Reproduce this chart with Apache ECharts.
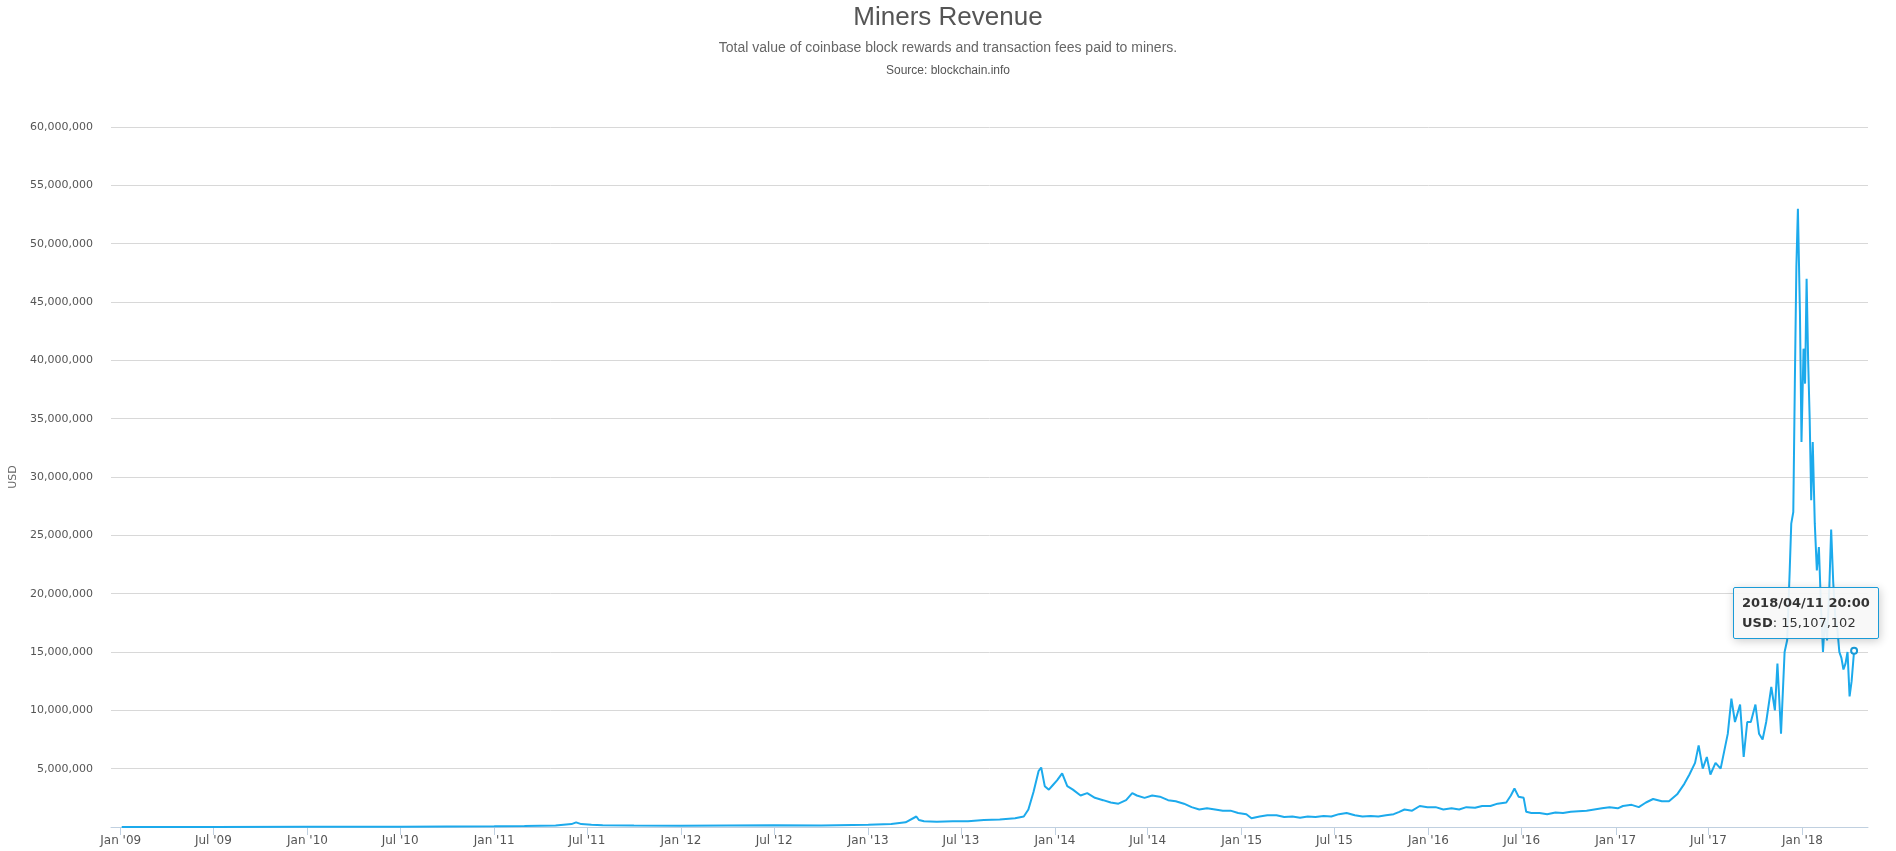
<!DOCTYPE html>
<html><head><meta charset="utf-8">
<script src="https://cdn.jsdelivr.net/npm/echarts@6/dist/echarts.min.js"></script>
<style>html,body{margin:0;padding:0;background:#fff}#c{width:1896px;height:851px}</style>
</head><body><div id="c"></div>
<script>
const dates = ["2009-01-03","2009-07-01","2010-01-01","2010-07-01","2011-01-01","2011-03-01","2011-05-01","2011-06-01","2011-06-10","2011-06-20","2011-07-10","2011-08-01","2011-10-01","2012-01-01","2012-04-01","2012-07-01","2012-10-01","2013-01-01","2013-02-15","2013-03-15","2013-04-05","2013-04-10","2013-04-20","2013-05-15","2013-06-15","2013-07-15","2013-08-15","2013-09-15","2013-10-15","2013-11-01","2013-11-10","2013-11-20","2013-11-30","2013-12-05","2013-12-12","2013-12-20","2013-12-28","2014-01-05","2014-01-15","2014-01-25","2014-02-05","2014-02-20","2014-03-05","2014-03-20","2014-04-05","2014-04-20","2014-05-05","2014-05-20","2014-06-01","2014-06-10","2014-06-25","2014-07-10","2014-07-25","2014-08-10","2014-08-25","2014-09-10","2014-09-25","2014-10-10","2014-10-25","2014-11-10","2014-11-25","2014-12-10","2014-12-25","2015-01-10","2015-01-20","2015-02-05","2015-02-20","2015-03-10","2015-03-25","2015-04-10","2015-04-25","2015-05-10","2015-05-25","2015-06-10","2015-06-25","2015-07-10","2015-07-25","2015-08-10","2015-08-25","2015-09-10","2015-09-25","2015-10-10","2015-10-25","2015-11-05","2015-11-15","2015-11-30","2015-12-15","2015-12-30","2016-01-15","2016-01-30","2016-02-15","2016-03-01","2016-03-15","2016-04-01","2016-04-15","2016-05-01","2016-05-15","2016-06-01","2016-06-10","2016-06-17","2016-06-25","2016-07-05","2016-07-10","2016-07-20","2016-08-05","2016-08-20","2016-09-05","2016-09-20","2016-10-05","2016-10-20","2016-11-05","2016-11-20","2016-12-05","2016-12-20","2017-01-05","2017-01-15","2017-02-01","2017-02-15","2017-03-01","2017-03-15","2017-04-01","2017-04-15","2017-05-01","2017-05-15","2017-05-25","2017-06-05","2017-06-12","2017-06-20","2017-06-28","2017-07-05","2017-07-15","2017-07-25","2017-08-01","2017-08-08","2017-08-15","2017-08-22","2017-09-01","2017-09-08","2017-09-15","2017-09-22","2017-10-01","2017-10-08","2017-10-15","2017-10-22","2017-11-01","2017-11-08","2017-11-13","2017-11-20","2017-11-27","2017-12-02","2017-12-07","2017-12-10","2017-12-14","2017-12-17","2017-12-20","2017-12-23","2017-12-27","2017-12-30","2018-01-03","2018-01-06","2018-01-09","2018-01-12","2018-01-15","2018-01-18","2018-01-21","2018-01-25","2018-01-29","2018-02-02","2018-02-06","2018-02-10","2018-02-14","2018-02-18","2018-02-22","2018-02-26","2018-03-02","2018-03-06","2018-03-10","2018-03-14","2018-03-18","2018-03-22","2018-03-26","2018-03-30","2018-04-03","2018-04-07","2018-04-11T20:00"];
const usd = [0,5000,20000,30000,60000,80000,120000,250000,400000,250000,200000,150000,120000,100000,120000,150000,130000,200000,250000,400000,900000,600000,500000,450000,500000,500000,600000,650000,750000,900000,1500000,3000000,4800000,5100000,3500000,3200000,3600000,4000000,4600000,3500000,3200000,2700000,2900000,2500000,2300000,2100000,2000000,2300000,2900000,2700000,2500000,2700000,2600000,2300000,2200000,2000000,1700000,1500000,1600000,1500000,1400000,1400000,1200000,1100000,750000,900000,1000000,1000000,850000,900000,800000,900000,850000,950000,900000,1100000,1200000,1000000,900000,950000,900000,1000000,1100000,1300000,1500000,1400000,1800000,1700000,1700000,1500000,1600000,1500000,1700000,1650000,1800000,1800000,2000000,2100000,2700000,3300000,2600000,2500000,1300000,1200000,1200000,1100000,1250000,1200000,1300000,1350000,1400000,1500000,1600000,1700000,1600000,1800000,1900000,1700000,2100000,2400000,2200000,2200000,2800000,3700000,4500000,5500000,7000000,5000000,6000000,4500000,5500000,5000000,6500000,8000000,11000000,9000000,10500000,6000000,9000000,9000000,10500000,8000000,7500000,9000000,12000000,10000000,14000000,8000000,15000000,16000000,22000000,26000000,27000000,38000000,48000000,53000000,44000000,33000000,41000000,38000000,47000000,40000000,35000000,28000000,33000000,26000000,22000000,24000000,19000000,15000000,18000000,16000000,20000000,25500000,21000000,18000000,17000000,15000000,14500000,13500000,14000000,15000000,11200000,12500000,15107102];
const yTicks = [5000000,10000000,15000000,20000000,25000000,30000000,35000000,40000000,45000000,50000000,55000000,60000000];
const titleText = "Miners Revenue";
const subText = "Total value of coinbase block rewards and transaction fees paid to miners.";
const sourceText = "Source: blockchain.info";
const seriesName = "USD";
const tipTitle = "2018/04/11 20:00";

const chart = echarts.init(document.getElementById('c'));
const mon = ['Jan','Feb','Mar','Apr','May','Jun','Jul','Aug','Sep','Oct','Nov','Dec'];
const halfYear = 182.5*86400000;
chart.setOption({
  animation:false,
  title:[
    {text:titleText,left:'center',top:0,textStyle:{fontFamily:'Liberation Sans',fontSize:26,fontWeight:'normal',color:'#555'}},
    {text:subText,left:'center',top:36,textStyle:{fontFamily:'Liberation Sans',fontSize:14,fontWeight:'normal',color:'#666'}},
    {text:sourceText,left:'center',top:60,textStyle:{fontFamily:'Liberation Sans',fontSize:12,fontWeight:'normal',color:'#555'}}
  ],
  grid:{left:108,right:28,top:127,bottom:24,containLabel:false},
  tooltip:{trigger:'axis',alwaysShowContent:true,showContent:true,axisPointer:{type:'none'},backgroundColor:'rgba(247,247,247,0.92)',borderColor:'#1a9bd7',borderWidth:1,borderRadius:2,padding:[5,8],
    textStyle:{fontFamily:'DejaVu Sans',fontSize:13,color:'#333'},
    position:function(p,params,dom,rect,size){return [p[0]-size.contentSize[0]+25, p[1]-size.contentSize[1]-12];},
    formatter:function(ps){const p=Array.isArray(ps)?ps[0]:ps;return '<b>'+tipTitle+'</b><br/><b>'+seriesName+'</b>: '+p.value[1].toLocaleString('en-US');}},
  xAxis:{type:'time',min:+new Date('2008-12-13'),max:+new Date('2018-05-09'),minInterval:halfYear*0.9,maxInterval:halfYear*1.1,
    axisLine:{lineStyle:{color:'#c0d0e0'}},axisTick:{show:true,length:8,lineStyle:{color:'#c0d0e0'}},
    splitLine:{show:false},
    axisLabel:{color:'#555',fontSize:12,fontFamily:'DejaVu Sans',formatter:function(v){const d=new Date(v);return mon[d.getMonth()]+" '"+String(d.getFullYear()).slice(2);}}},
  yAxis:{type:'value',min:0,max:60000000,interval:5000000,name:'USD',nameLocation:'middle',nameGap:92,nameTextStyle:{color:'#666',fontSize:11,fontFamily:'DejaVu Sans'},
    axisLine:{show:false},axisTick:{show:false},splitLine:{lineStyle:{color:'#d8d8d8'}},
    axisLabel:{color:'#555',fontSize:11,fontFamily:'DejaVu Sans',margin:18,formatter:function(v){return yTicks.includes(v)?v.toLocaleString('en-US'):'';}}},
  series:[{name:seriesName,type:'line',showSymbol:false,symbolSize:2,lineStyle:{color:'#1a9bd7',width:2},itemStyle:{color:'#1a9bd7'},
    data:dates.map((d,i)=>[d,usd[i]])}]
});
function showLast(){
  const pt = chart.convertToPixel({seriesIndex:0},[dates[dates.length-1],usd[usd.length-1]]);
  chart.dispatchAction({type:'showTip',x:pt[0],y:pt[1]});
}
showLast();
setTimeout(showLast,50);
</script></body></html>
